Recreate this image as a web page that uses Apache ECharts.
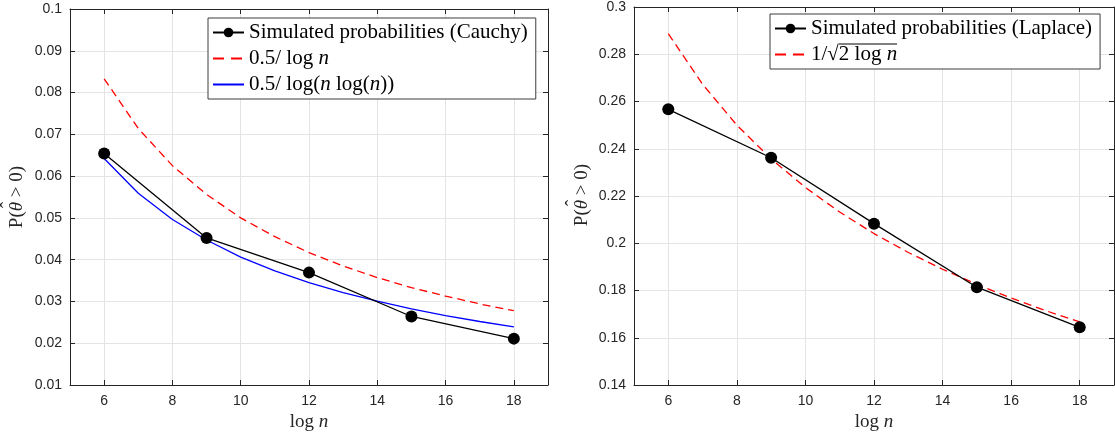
<!DOCTYPE html>
<html>
<head>
<meta charset="UTF-8">
<title>P(theta > 0) vs log n</title>
<script src="https://cdn.jsdelivr.net/npm/echarts@6/dist/echarts.min.js"></script>
<style>
  html, body { margin: 0; padding: 0; background: #fff; }
  #chart { width: 1115px; height: 442px; }
</style>
</head>
<body>
<div id="chart"></div>
<script>
// data
var xTicks = [6, 8, 10, 12, 14, 16, 18];
var simX = [6, 9, 12, 15, 18];
var cauchySim = [0.0654, 0.0452, 0.0369, 0.0264, 0.0211];
var laplaceSim = [0.2567, 0.2362, 0.2083, 0.1814, 0.1644];
var curveX = [6, 7, 8, 9, 10, 11, 12, 13, 14, 15, 16, 17, 18];
var cauchyBound = [0.0833, 0.0714, 0.0625, 0.0556, 0.0500, 0.0455, 0.0417, 0.0385, 0.0357, 0.0333, 0.0313, 0.0294, 0.0278];
var cauchyBound2 = [0.0642, 0.0559, 0.0496, 0.0447, 0.0406, 0.0373, 0.0345, 0.0321, 0.0301, 0.0282, 0.0266, 0.0252, 0.0239];
var laplaceBound = [0.2887, 0.2673, 0.2500, 0.2357, 0.2236, 0.2132, 0.2041, 0.1961, 0.1890, 0.1826, 0.1768, 0.1715, 0.1667];

function pairs(xs, ys) {
  return xs.map(function (x, i) { return [x, ys[i]]; });
}

var axisCol = '#262626';
var gridCol = '#e4e4e4';
var serif = '"Liberation Serif", "DejaVu Serif", serif';
var sans = '"Liberation Sans", Arial, sans-serif';
var mathRich = {
  r: { fontFamily: serif, fontSize: 19, fill: axisCol, color: axisCol },
  i: { fontFamily: serif, fontSize: 19, fontStyle: 'italic', fill: axisCol, color: axisCol }
};
var legendRich = {
  r: { fontFamily: serif, fontSize: 21, color: '#000' },
  i: { fontFamily: serif, fontSize: 21, fontStyle: 'italic', color: '#000' }
};

function xAxisPair(gi) {
  var base = {
    type: 'value', gridIndex: gi, min: 5, max: 19,
    axisLine: { lineStyle: { color: axisCol, width: 1 } },
    axisTick: { inside: true, length: 5, customValues: xTicks, lineStyle: { color: axisCol } }
  };
  var bottom = Object.assign({}, base, {
    position: 'bottom',
    name: '{r|log }{i|n}',
    nameLocation: 'middle',
    nameGap: 26,
    nameTextStyle: { rich: mathRich },
    axisLabel: { customValues: xTicks, margin: 9, color: axisCol, fontSize: 14, fontFamily: sans },
    splitLine: { show: true, lineStyle: { color: gridCol, width: 1 } }
  });
  var top = Object.assign({}, base, {
    position: 'top',
    axisLabel: { show: false },
    splitLine: { show: false }
  });
  return [bottom, top];
}

function yAxisPair(gi, min, max, step) {
  var base = {
    type: 'value', gridIndex: gi, min: min, max: max, interval: step,
    axisLine: { show: true, lineStyle: { color: axisCol, width: 1 } },
    axisTick: { show: true, inside: true, length: 5, lineStyle: { color: axisCol } }
  };
  var left = Object.assign({}, base, {
    position: 'left',
    axisLabel: {
      margin: 8, color: axisCol, fontSize: 14, fontFamily: sans,
      formatter: function (v) { return String(+v.toFixed(2)); }
    },
    splitLine: { show: true, lineStyle: { color: gridCol, width: 1 } }
  });
  var right = Object.assign({}, base, {
    position: 'right',
    axisLabel: { show: false },
    splitLine: { show: false }
  });
  return [left, right];
}

// rotated y title P(θ̂ > 0), hat drawn as its own glyph over θ
function yTitle(cx, cy) {
  return {
    type: 'group', x: cx, y: cy, rotation: Math.PI / 2, silent: true,
    children: [
      {
        type: 'text',
        style: {
          text: '{r|P(}{i|θ}{r|\u00a0>\u00a00)}', rich: mathRich,
          align: 'center', verticalAlign: 'middle'
        }
      },
      {
        type: 'text', x: -8, y: -9,
        style: {
          text: 'ˆ', fontFamily: serif, fontSize: 19, fill: axisCol,
          align: 'center', verticalAlign: 'middle'
        }
      }
    ]
  };
}

function legendFmt(name) {
  if (name === '0.5/ log n') return '{r|0.5/ log }{i|n}';
  if (name === '0.5/ log(n log(n))') return '{r|0.5/ log(}{i|n}{r| log(}{i|n}{r|))}';
  if (name === '1/√2 log n') return '{r|1/√2 log }{i|n}';
  return '{r|' + name + '}';
}

var legendBase = {
  orient: 'vertical',
  backgroundColor: '#fff',
  borderColor: '#3c3c3c',
  borderWidth: 1,
  borderRadius: 0,
  padding: [4, 8, 4, 4],
  itemGap: 5,
  itemWidth: 31,
  itemHeight: 12,
  formatter: legendFmt,
  textStyle: { lineHeight: 20, rich: legendRich }
};
var noMarker = { opacity: 0 };
var legendDash = { type: [11, 7] };

var option = {
  animation: false,
  backgroundColor: '#fff',
  grid: [
    { left: 70, top: 9, width: 478, height: 376 },
    { left: 634, top: 5, width: 480, height: 380 }
  ],
  xAxis: xAxisPair(0).concat(xAxisPair(1)),
  yAxis: yAxisPair(0, 0.01, 0.1, 0.01).concat(yAxisPair(1, 0.14, 0.3, 0.02)),
  graphic: [
    yTitle(17, 197),
    yTitle(582, 195),
    // vinculum of the square root in the right legend
    {
      type: 'line', z: 100, silent: true,
      shape: { x1: 839, y1: 44, x2: 897, y2: 44 },
      style: { stroke: '#000', lineWidth: 1 }
    }
  ],
  legend: [
    Object.assign({}, legendBase, {
      left: 208, top: 18,
      data: [
        'Simulated probabilities (Cauchy)',
        { name: '0.5/ log n', itemStyle: noMarker, lineStyle: legendDash },
        { name: '0.5/ log(n log(n))', itemStyle: noMarker }
      ]
    }),
    Object.assign({}, legendBase, {
      left: 770, top: 14,
      data: [
        'Simulated probabilities (Laplace)',
        { name: '1/√2 log n', itemStyle: noMarker, lineStyle: legendDash }
      ]
    })
  ],
  series: [
    {
      name: '0.5/ log n', type: 'line', xAxisIndex: 0, yAxisIndex: 0,
      data: pairs(curveX, cauchyBound), symbol: 'none', color: '#ff0000',
      lineStyle: { color: '#ff0000', width: 1.3, type: [8, 5] }
    },
    {
      name: '0.5/ log(n log(n))', type: 'line', xAxisIndex: 0, yAxisIndex: 0,
      data: pairs(curveX, cauchyBound2), symbol: 'none', color: '#0000ff',
      lineStyle: { color: '#0000ff', width: 1.3 }
    },
    {
      name: 'Simulated probabilities (Cauchy)', type: 'line', xAxisIndex: 0, yAxisIndex: 0,
      data: pairs(simX, cauchySim), symbol: 'circle', symbolSize: 12, color: '#000',
      lineStyle: { color: '#000', width: 1.3 }, itemStyle: { color: '#000' }
    },
    {
      name: '1/√2 log n', type: 'line', xAxisIndex: 2, yAxisIndex: 2,
      data: pairs(curveX, laplaceBound), symbol: 'none', color: '#ff0000',
      lineStyle: { color: '#ff0000', width: 1.3, type: [8, 5] }
    },
    {
      name: 'Simulated probabilities (Laplace)', type: 'line', xAxisIndex: 2, yAxisIndex: 2,
      data: pairs(simX, laplaceSim), symbol: 'circle', symbolSize: 12, color: '#000',
      lineStyle: { color: '#000', width: 1.3 }, itemStyle: { color: '#000' }
    }
  ]
};

var myChart = echarts.init(document.getElementById('chart'));
myChart.setOption(option);
</script>
</body>
</html>
